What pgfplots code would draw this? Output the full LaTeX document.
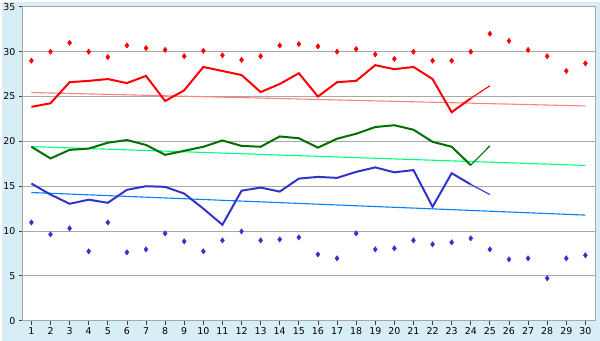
\documentclass[border=0pt]{standalone}
\usepackage{fontspec}
\setmainfont{DejaVu Sans}
\usepackage{pgfplots}
\pgfplotsset{compat=1.18}
\definecolor{bgblue}{RGB}{216,238,246}
\definecolor{axgray}{RGB}{168,168,168}
\definecolor{cred}{RGB}{255,0,0}
\definecolor{cpink}{RGB}{255,128,128}
\definecolor{cgreen}{RGB}{0,112,0}
\definecolor{clgreen}{RGB}{0,255,128}
\definecolor{cblue}{RGB}{51,51,204}
\definecolor{clblue}{RGB}{0,128,255}
\begin{document}
\begin{tikzpicture}
\fill[bgblue] (-20.7bp,-20bp) rectangle (579.3bp,320bp);
\begin{axis}[
  scale only axis, width=574.6bp, height=315bp,
  at={(0,0)}, anchor=south west,
  xmin=0.55, xmax=30.52, ymin=0, ymax=35,
  xtick={1,...,30}, ytick={0,5,...,35},
  xtick pos=left, ytick pos=left,
  ymajorgrids, grid style={axgray, line width=0.9bp},
  axis line style={axgray, line width=1bp},
  tick style={black!75, line width=0.8bp},
  tick align=outside, major tick length=4bp,
  axis background/.style={fill=white},
  ticklabel style={font=\fontsize{9.5}{11}\selectfont},
  xticklabel style={yshift=1bp},
  /pgf/number format/assume math mode=true,
  clip=false,
]
% trend lines
\addplot[cpink, line width=1.1bp] coordinates {(1,25.45) (30,23.95)};
\addplot[clgreen, line width=1.1bp] coordinates {(1,19.42) (30,17.32)};
\addplot[clblue, line width=1.1bp] coordinates {(1,14.3) (30,11.78)};
% red line
\addplot[cred, line width=2bp] coordinates {
(1,23.85) (2,24.25) (3,26.6) (4,26.75) (5,26.95) (6,26.5) (7,27.3) (8,24.5) (9,25.7) (10,28.3)
(11,27.85) (12,27.4) (13,25.5) (14,26.4) (15,27.6) (16,25.0) (17,26.6) (18,26.75) (19,28.5) (20,28.05)
(21,28.3) (22,26.95) (23,23.25) (24,24.8)};
\addplot[cred, line width=1.1bp] coordinates {(24,24.8) (25,26.2)};
% green line
\addplot[cgreen, line width=2bp] coordinates {
(1,19.4) (2,18.1) (3,19.05) (4,19.2) (5,19.85) (6,20.15) (7,19.6) (8,18.5) (9,18.95) (10,19.4)
(11,20.1) (12,19.5) (13,19.4) (14,20.55) (15,20.35) (16,19.3) (17,20.3) (18,20.85) (19,21.6) (20,21.8)
(21,21.3) (22,19.95) (23,19.4) (24,17.35)};
\addplot[cgreen, line width=1.1bp] coordinates {(24,17.35) (25,19.5)};
% blue line
\addplot[cblue, line width=2bp] coordinates {
(1,15.3) (2,14.07) (3,13.04) (4,13.5) (5,13.15) (6,14.6) (7,15.0) (8,14.93) (9,14.18) (10,12.5)
(11,10.7) (12,14.5) (13,14.85) (14,14.4) (15,15.85) (16,16.04) (17,15.93) (18,16.6) (19,17.1) (20,16.55)
(21,16.8) (22,12.7) (23,16.45) (24,15.2)};
\addplot[cblue, line width=1.1bp] coordinates {(24,15.2) (25,14.07)};
% red markers
\addplot[only marks, mark=diamond*, mark size=2.7bp, cred, mark options={fill=cred, draw=cred}] coordinates {
(1,29.0) (2,30.0) (3,31.0) (4,30.0) (5,29.4) (6,30.7) (7,30.4) (8,30.2) (9,29.5) (10,30.1)
(11,29.6) (12,29.1) (13,29.5) (14,30.7) (15,30.85) (16,30.6) (17,30.0) (18,30.3) (19,29.7) (20,29.2)
(21,30.0) (22,29.0) (23,29.0) (24,30.0) (25,32.0) (26,31.2) (27,30.2) (28,29.5) (29,27.85) (30,28.7)};
% blue markers
\addplot[only marks, mark=diamond*, mark size=2.7bp, cblue, mark options={fill=cblue, draw=cblue}] coordinates {
(1,10.96) (2,9.63) (3,10.3) (4,7.74) (5,10.96) (6,7.63) (7,7.96) (8,9.74) (9,8.85) (10,7.74)
(11,8.96) (12,9.96) (13,8.96) (14,9.07) (15,9.3) (16,7.4) (17,6.96) (18,9.74) (19,7.96) (20,8.07)
(21,8.96) (22,8.52) (23,8.74) (24,9.19) (25,7.96) (26,6.85) (27,6.96) (28,4.74) (29,6.96) (30,7.3)};
\end{axis}
\end{tikzpicture}
\end{document}
